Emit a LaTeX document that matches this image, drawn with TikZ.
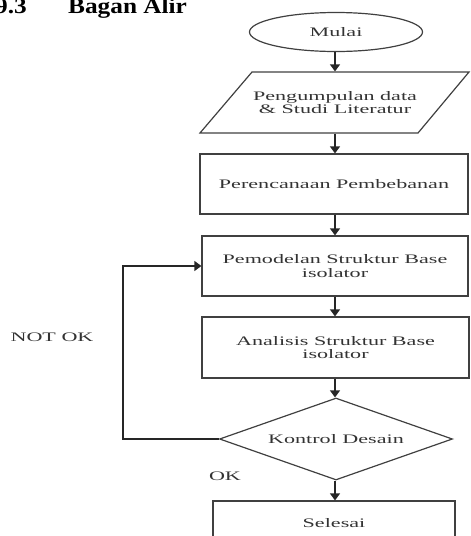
\documentclass[tikz,border=0pt]{standalone}
\usepackage{fontspec}
\setmainfont{Liberation Serif}
\newfontfamily\diagfont[FakeStretch=1.7]{Liberation Serif}
\newfontfamily\headfont[FakeStretch=1.15]{Liberation Serif}
\usetikzlibrary{shapes.geometric,arrows.meta}
\definecolor{ink}{HTML}{404040}
\definecolor{txt}{HTML}{333333}
\begin{document}
\begin{tikzpicture}[x=1pt,y=-1pt,
  box/.style={draw=ink,line width=1.2pt,rectangle,inner sep=0pt,align=center,
    font=\diagfont\fontsize{13}{13.5}\selectfont,text=txt},
  arr/.style={draw=black!85,line width=1.2pt,-{Triangle[length=7pt,width=10pt]}},
  lbl/.style={font=\diagfont\fontsize{13}{13.5}\selectfont,text=txt,inner sep=0pt},
  head/.style={font=\headfont\bfseries\fontsize{22}{24}\selectfont,inner sep=0pt}]
\useasboundingbox (0,0) rectangle (471,536);
\clip (0,0) rectangle (471,536);
% heading (cut at the top in the reference)
\node[head,anchor=base east] (num) at (27,13) {9.3};
\node[head,anchor=base west] (title) at (68,13) {Bagan Alir};
% flowchart nodes
\node[box,ellipse,minimum width=173pt,minimum height=39pt] (start) at (336,32) {Mulai};
\node[box,draw=none,minimum width=218pt,minimum height=61pt] (data) at (335,102.5)
  {Pengumpulan data\\ \& Studi Literatur};
\draw[ink,line width=1.2pt,line join=miter] (252,72) -- (469,72) -- (418,133) -- (200,133) -- cycle;
\node[box,minimum width=268pt,minimum height=60pt] (plan) at (334,184) {Perencanaan Pembebanan};
\node[box,minimum width=266pt,minimum height=60pt] (model) at (335,266) {Pemodelan Struktur Base\\ isolator};
\node[box,minimum width=267pt,minimum height=61pt] (anal) at (335.5,347.5) {Analisis Struktur Base\\ isolator};
\node[box,diamond,aspect=3,minimum width=233pt,minimum height=82pt] (dec) at (336,439) {Kontrol Desain};
\node[box,minimum width=242pt,minimum height=44pt] (end) at (334,523) {Selesai};
% labels
\node[lbl] (notok) at (52,337) {NOT OK};
\node[lbl] (ok) at (225,476) {OK};
% connectors
\coordinate (ax) at (335,0);
\draw[arr] (ax |- start.south) -- (ax |- data.north);
\draw[arr] (ax |- data.south) -- (ax |- plan.north);
\draw[arr] (ax |- plan.south) -- (ax |- model.north);
\draw[arr] (ax |- model.south) -- (ax |- anal.north);
\draw[arr] (ax |- anal.south) -- (ax |- dec.north);
\draw[arr] (ax |- dec.south) -- (ax |- end.north);
\coordinate (fb) at (123,440);
\draw[arr] (dec.west) -- (fb |- dec.west) -- (fb |- model.west) -- (model.west);
\end{tikzpicture}
\end{document}
